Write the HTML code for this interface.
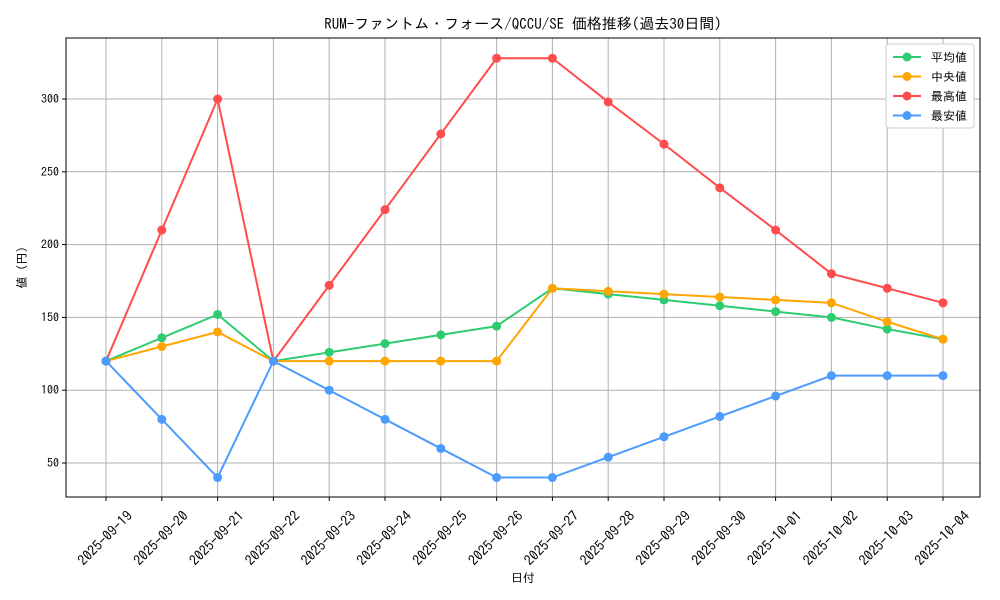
<!DOCTYPE html>
<html><head><meta charset="utf-8">
<style>
html,body{margin:0;padding:0;background:#fff;}
svg{display:block;font-family:"IPAGothic","Liberation Mono","Noto Sans CJK JP",monospace;}
</style></head>
<body>
<svg id="chart" width="1000" height="600"></svg>
<script>
const categories=["2025-09-19","2025-09-20","2025-09-21","2025-09-22","2025-09-23","2025-09-24","2025-09-25","2025-09-26","2025-09-27","2025-09-28","2025-09-29","2025-09-30","2025-10-01","2025-10-02","2025-10-03","2025-10-04"];
const avgValues=[120,136,152,120,126,132,138,144,170,166,162,158,154,150,142,135];
const medianValues=[120,130,140,120,120,120,120,120,170,168,166,164,162,160,147,135];
const maxValues=[120,210,300,120,172,224,276,328,328,298,269,239,210,180,170,160];
const minValues=[120,80,40,120,100,80,60,40,40,54,68,82,96,110,110,110];
const yTicks=[50,100,150,200,250,300];
const seriesNames=["平均値","中央値","最高値","最安値"];
const seriesColors=["#2ecc71","#ffa500","#ff4c4c","#4c9bff"];

const NS="http://www.w3.org/2000/svg";
const svg=document.getElementById('chart');
const L=66,R=980,T=38,B=497;
function xs(i){return 106+i*(943-106)/(categories.length-1);}
function ys(v){return 463-(v-50)*(463-99)/250;}
function mk(tag,attrs,parent){const e=document.createElementNS(NS,tag);for(const k in attrs)e.setAttribute(k,attrs[k]);(parent||svg).appendChild(e);return e;}

categories.forEach((c,i)=>{
  const g=mk('line',{x1:xs(i),x2:xs(i),y1:T,y2:B,stroke:'#b0b0b0','stroke-width':1});
  
  
  const tk=mk('line',{x1:xs(i),x2:xs(i),y1:B,y2:B+4,stroke:'#000'});
  
  
  const cx=xs(i)-1,cy=B+41;
  const t=mk('text',{x:cx,y:cy+5,'font-size':14,'text-anchor':'middle',transform:`rotate(-45 ${cx} ${cy})`});
  t.textContent=c;
  
  
});
yTicks.forEach(v=>{
  const g=mk('line',{x1:L,x2:R,y1:ys(v),y2:ys(v),stroke:'#b0b0b0','stroke-width':1});
  
  
  const tk=mk('line',{x1:L-4,x2:L,y1:ys(v),y2:ys(v),stroke:'#000'});
  
  
  const t=mk('text',{x:L-7,y:ys(v)+4,'font-size':12,'text-anchor':'end'});
  t.textContent=v;
  
  
});
const frame=mk('rect',{x:L,y:T,width:R-L,height:B-T,fill:'none',stroke:'#000','stroke-width':1});



const allSeries=[avgValues,medianValues,maxValues,minValues];
allSeries.forEach((vals,si)=>{
  const p=mk('polyline',{points:vals.map((v,i)=>xs(i)+','+ys(v)).join(' '),fill:'none',stroke:seriesColors[si],'stroke-width':2});
  
  
  vals.forEach((v,i)=>{
    const c=mk('circle',{cx:xs(i),cy:ys(v),r:4.5,fill:seriesColors[si]});
    
    
  });
});

const title=mk('text',{x:(L+R)/2,y:29,'font-size':15,'text-anchor':'middle'});
title.textContent='RUM-ファントム・フォース/QCCU/SE 価格推移(過去30日間)';


const xt=mk('text',{x:(L+R)/2,y:582,'font-size':12,'text-anchor':'middle'});
xt.textContent='日付';


const yt=mk('text',{x:26,y:(T+B)/2,'font-size':12,'text-anchor':'middle',transform:`rotate(-90 26 ${(T+B)/2})`});
yt.textContent='値 (円)';



const lg=mk('rect',{x:886,y:44,width:88,height:84,fill:'#fff',stroke:'#ccc',rx:3});


seriesNames.forEach((n,i)=>{
  const y=57+i*19.5;
  const l=mk('line',{x1:893,x2:921,y1:y,y2:y,stroke:seriesColors[i],'stroke-width':2});
  
  
  const c=mk('circle',{cx:907,cy:y,r:4.5,fill:seriesColors[i]});
  
  
  const t=mk('text',{x:931,y:y+4.5,'font-size':12});
  t.textContent=n;
  
  
});
</script>
</body></html>
